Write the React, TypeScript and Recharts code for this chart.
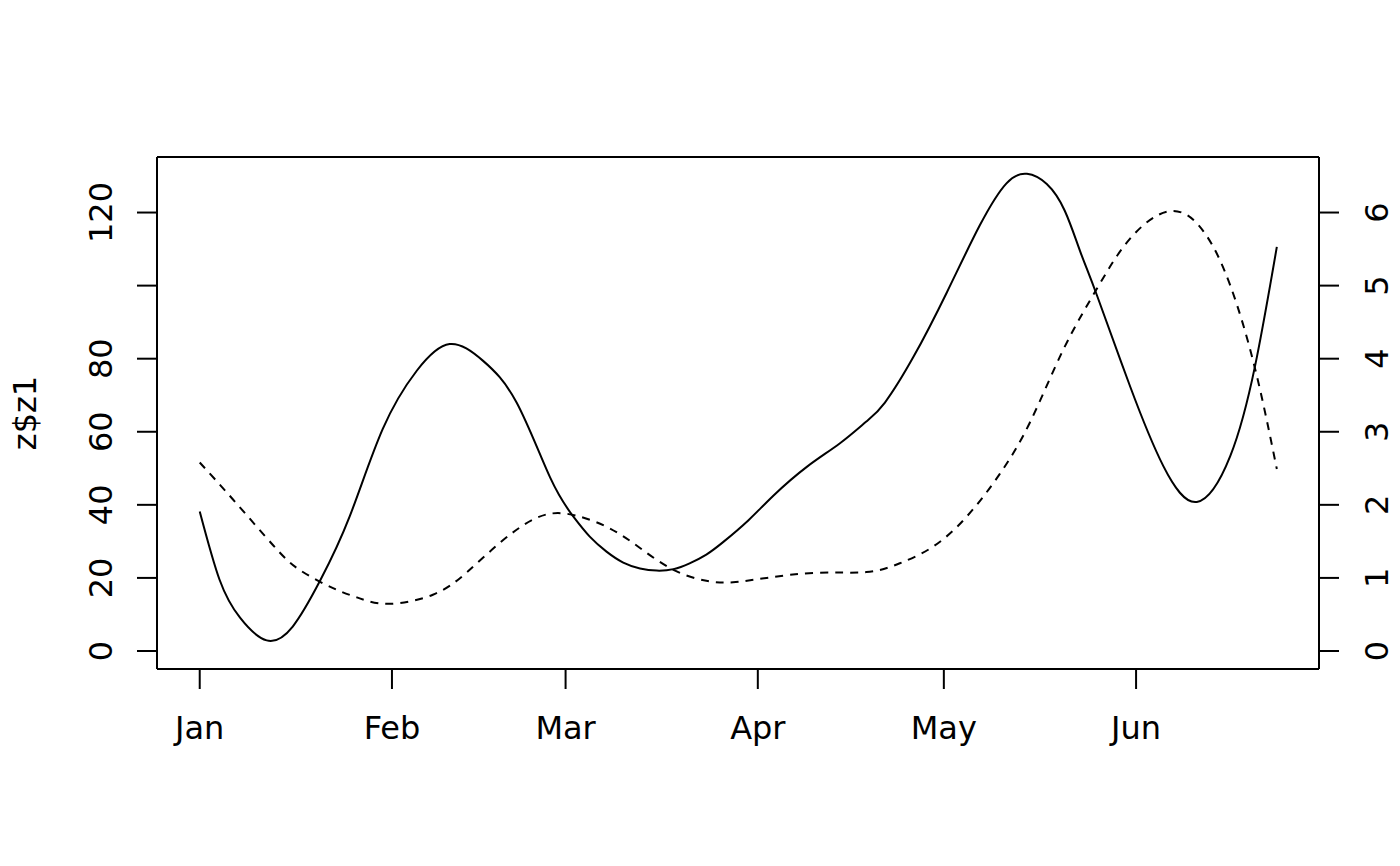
import React from "react";
import { LineChart, Line, XAxis, YAxis, ReferenceLine } from "recharts";

// days counted from 1 Jan
const monthDays = [0, 31, 59, 90, 120, 151];
const monthLabels = ["Jan", "Feb", "Mar", "Apr", "May", "Jun"];

const leftTicks = [0, 20, 40, 60, 80, 100, 120];
const rightTicks = [0, 1, 2, 3, 4, 5, 6];

// z1 (solid, left axis)
const z1Days = [
  0, 3.2, 6.5, 10.8, 15, 19.4, 24.2, 29.5, 35, 40.3, 45.7, 51.1, 56.5, 60.2, 62.9, 65.6, 68.3, 71, 73.7,
  76.4, 79, 81.7, 84.4, 88.5, 92.5, 97.9, 103.2, 107.5, 110.5, 115.1, 120.5, 125.8, 130.1, 133.4, 136.6,
  139.5, 142, 144.7, 150, 155.4, 160.8, 166.2, 170.2, 173.7,
];
const z1Values = [
  38.2, 19.5, 9.1, 2.9, 6.7, 19.2, 36.9, 60.7, 76.7, 84.0, 79.4, 68.0, 47.5, 36.9, 31.3, 27.2, 24.2, 22.6, 22.0,
  22.4, 24.0, 26.4, 29.8, 35.8, 42.5, 50.4, 56.8, 62.8, 68.0, 80.5, 98.2, 116.5, 128.0, 130.6, 127.8,
  120.5, 109.3, 97.3, 72.6, 50.6, 40.8, 53.4, 78.1, 110.6,
];

// z2 (dashed, right axis)
const z2Days = [
  0, 5.3, 11.8, 16.1, 21.5, 25.8, 30.6, 37.6, 43, 48.4, 53.8, 59, 65.6, 71, 76.4, 81.7, 86, 91.4,
  99.5, 107.5, 112.9, 118.3, 123.7, 129, 133.9, 139.3, 144.7, 150, 156.5, 161.9, 166.2, 170.2, 173.7,
];
const z2Values = [
  2.58, 2.08, 1.45, 1.11, 0.86, 0.72, 0.645, 0.77, 1.07, 1.48, 1.8, 1.88, 1.7, 1.41, 1.11, 0.96, 0.94, 1.0,
  1.07, 1.08, 1.2, 1.43, 1.84, 2.42, 3.13, 4.13, 4.96, 5.64, 6.02, 5.74, 5.0, 3.86, 2.49,
];

const z1Data = z1Days.map((day, i) => ({ day, v: z1Values[i] }));
const z2Data = z2Days.map((day, i) => ({ day, v: z2Values[i] }));

const FONT = "DejaVu Sans";
const FS = 32;
const LEFT_MAX = 135.2;

const XTick = (props: any) => {
  const { x, payload } = props;
  const idx = monthDays.indexOf(payload.value);
  return (
    <text x={x} y={731} textAnchor="middle" fontFamily={FONT} fontSize={FS} fill="#000">
      {monthLabels[idx]}
    </text>
  );
};

const LeftTick = (props: any) => {
  const { y, payload } = props;
  if (payload.value === 100) return <g />;
  return (
    <text x={104} y={y} transform={`rotate(-90, 104, ${y})`} textAnchor="middle" fontFamily={FONT} fontSize={FS} fill="#000">
      {payload.value}
    </text>
  );
};

const RightTick = (props: any) => {
  const { y, payload } = props;
  return (
    <text x={1380} y={y} transform={`rotate(-90, 1380, ${y})`} textAnchor="middle" fontFamily={FONT} fontSize={FS} fill="#000">
      {payload.value}
    </text>
  );
};

const YTitle = () => (
  <text x={28} y={405} transform="rotate(-90, 28, 405)" textAnchor="middle" fontFamily={FONT} fontSize={FS} fill="#000">
    z$z1
  </text>
);

export default function App() {
  return (
    <LineChart width={1392} height={850} margin={{ top: 149, right: 1, bottom: 109, left: 49 }}>
      <XAxis
        dataKey="day"
        type="number"
        domain={[-6.89, 180.5]}
        allowDataOverflow
        ticks={monthDays}
        tick={<XTick />}
        tickSize={20}
        height={80}
        axisLine={{ stroke: "#000", strokeWidth: 2 }}
        tickLine={{ stroke: "#000", strokeWidth: 2 }}
      />
      <YAxis
        yAxisId="left"
        domain={[-4.93, LEFT_MAX]}
        allowDataOverflow
        ticks={leftTicks}
        tick={<LeftTick />}
        tickSize={20}
        width={100}
        axisLine={{ stroke: "#000", strokeWidth: 2 }}
        tickLine={{ stroke: "#000", strokeWidth: 2 }}
        label={<YTitle />}
      />
      <YAxis
        yAxisId="right"
        orientation="right"
        domain={[-0.2465, 6.76]}
        allowDataOverflow
        ticks={rightTicks}
        tick={<RightTick />}
        tickSize={20}
        width={80}
        axisLine={{ stroke: "#000", strokeWidth: 2 }}
        tickLine={{ stroke: "#000", strokeWidth: 2 }}
      />
      <ReferenceLine yAxisId="left" y={LEFT_MAX} stroke="#000" strokeWidth={2} />
      <Line
        yAxisId="left"
        data={z1Data}
        dataKey="v"
        type="natural"
        stroke="#000"
        strokeWidth={2}
        dot={false}
        isAnimationActive={false}
      />
      <Line
        yAxisId="right"
        data={z2Data}
        dataKey="v"
        type="natural"
        stroke="#000"
        strokeWidth={2}
        strokeDasharray="8 7"
        dot={false}
        isAnimationActive={false}
      />
    </LineChart>
  );
}
